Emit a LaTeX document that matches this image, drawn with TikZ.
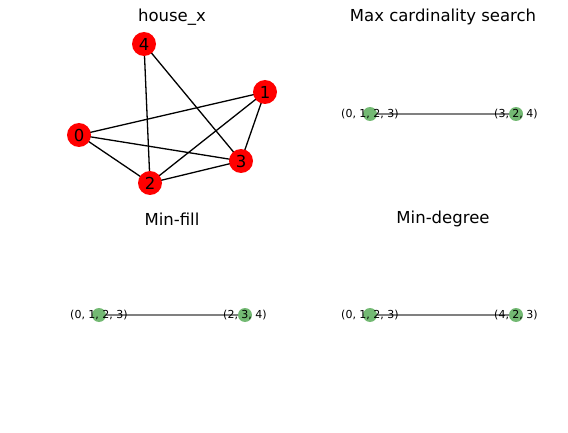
\documentclass[tikz,border=0pt]{standalone}
\usepackage{fontspec}
\setmainfont{DejaVu Sans}
\usetikzlibrary{positioning}

\begin{document}
\begin{tikzpicture}[x=1pt,y=-1pt,
every node/.style={inner sep=0pt},
hnode/.style={circle,fill=red,minimum size=24pt,font=\fontsize{16.5}{16.5}\selectfont},
tnode/.style={circle,fill=green!50!black,fill opacity=0.55,minimum size=14pt},
tlabel/.style={font=\fontsize{11}{11}\selectfont},
ptitle/.style={font=\fontsize{16.5}{16.5}\selectfont}]
\useasboundingbox (0,0) rectangle (568,433);

%house_x graph
\node[ptitle](t1) at (172,17) {house\_x};
\coordinate(h0) at (79,135);
\coordinate(h1) at (265,92);
\coordinate(h2) at (150,183);
\coordinate(h3) at (241,161);
\coordinate(h4) at (144,44);
\foreach \a/\b in {4/2,4/3,0/1,0/3,0/2,2/1,2/3,1/3}
	\draw[line width=1.3pt] (h\a) -- (h\b);
\foreach \x in {0,...,4}
	\node[hnode](n\x) at (h\x) {\x};

%tree decompositions
\node[ptitle](t2) at (443,17) {Max cardinality search};
\node[ptitle](t3) at (172,219) {Min-fill};
\node[ptitle](t4) at (443,219) {Min-degree};

\foreach \id/\px/\py/\la/\lb in {mc/370/114/{(0, 1, 2, 3)}/{(3, 2, 4)},
	mf/99/315/{(0, 1, 2, 3)}/{(2, 3, 4)},
	md/370/315/{(0, 1, 2, 3)}/{(4, 2, 3)}}{
	\node[tnode](\id a) at (\px,\py) {};
	\node[tnode](\id b) at (\px+146,\py) {};
	\draw[gray,line width=1.3pt] (\id a) -- (\id b);
	\node[tlabel](\id la) at (\id a) {\la};
	\node[tlabel](\id lb) at (\id b) {\lb};
}
\end{tikzpicture}
\end{document}
